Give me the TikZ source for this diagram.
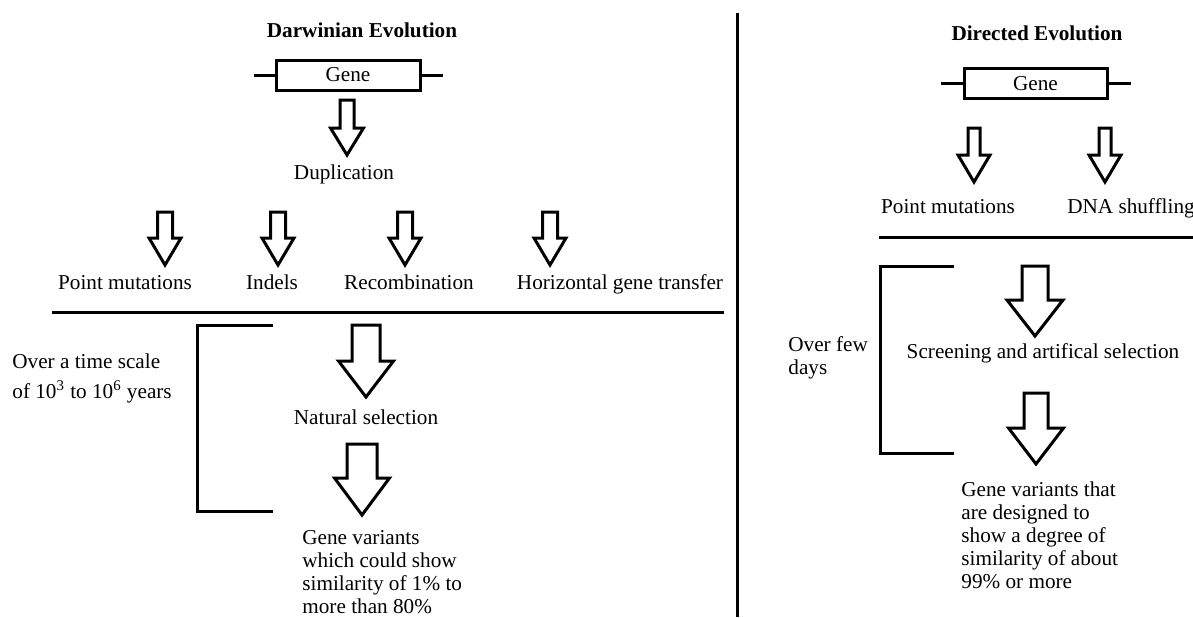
\documentclass[tikz,border=0pt]{standalone}
\usepackage{fontspec}
\setmainfont{Liberation Serif}
\usetikzlibrary{positioning}

\begin{document}
\begin{tikzpicture}[x=0.5pt, y=-0.5pt,
        txt/.style={font=\fontsize{10.6pt}{11.5pt}\selectfont, inner sep=0pt, anchor=base},
        para/.style={txt, align=left, anchor=base west},
        title/.style={txt, font=\fontsize{10.6pt}{11.5pt}\selectfont\bfseries},
        genebox/.style={draw, line width=1.5pt, minimum width=72pt, minimum height=15pt,
            inner sep=0pt, font=\fontsize{10.6pt}{11.5pt}\selectfont},
        rule/.style={line width=1.5pt},
        pics/blockdown/.style args={#1/#2/#3/#4}{code={
            \draw[rule, line join=miter] (-#1,0) -- (-#1,#3) -- (-#2,#3) -- (0,#4)
                -- (#2,#3) -- (#1,#3) -- (#1,0) -- cycle;}}]
        \useasboundingbox (0,0) rectangle (1193,617);

        % Darwinian evolution: title and gene
        \node[title] (dtitle) at (362,37) {Darwinian Evolution};
        \node[genebox] (dgene) at (348,75) {Gene};
        \coordinate (dgenel) at (254,75);
        \coordinate (dgener) at (443,75);
        \draw[rule] (dgenel) -- (dgene.west);
        \draw[rule] (dgene.east) -- (dgener);

        \pic (ddup) at (347,100) {blockdown=7/16.5/28/55};
        \node[txt] (dupl) at (344,179) {Duplication};

        % Draw the four ways of change
        \pic (dpm) at (165,212) {blockdown=7.5/16/26/53};
        \pic (dind) at (278,212) {blockdown=7.5/16/26/53};
        \pic (drec) at (405,212) {blockdown=7.5/16/26/53};
        \pic (dhgt) at (550,212) {blockdown=7.5/16/26/53};

        \node[txt] (dpoint) at (125,289) {Point mutations};
        \node[txt] (indels) at (272,289) {Indels};
        \node[txt] (recomb) at (409,289) {Recombination};
        \node[txt] (hgt) at (620,289) {Horizontal gene transfer};

        \coordinate (dlinel) at (52,312);
        \coordinate (dliner) at (724,312);
        \draw[rule] (dlinel) -- (dliner);

        % Draw the time scale bracket and selection
        \draw[rule] (273,325) -- (197,325) -- (197,511) -- (273,511);
        \node[para] (dtime) at (12,398) {Over a time scale\\[3.5pt]
            of 10\textsuperscript{3} to 10\textsuperscript{6} years};

        \pic (dsel) at (366,325) {blockdown=14/27.5/36/72};
        \node[txt] (natsel) at (366,424) {Natural selection};
        \pic (dres) at (362,444) {blockdown=15/27.5/34/71};
        \node[para] (dvar) at (302,613) {Gene variants\\which could show\\
            similarity of 1\% to\\more than 80\%};

        % Divider between the two halves
        \coordinate (divt) at (737,13);
        \coordinate (divb) at (737,617);
        \draw[rule] (divt) -- (divb);

        % Directed evolution: title and gene
        \node[title] (rtitle) at (1037,40) {Directed Evolution};
        \node[genebox, minimum width=71.5pt] (rgene) at (1035.5,83.5) {Gene};
        \coordinate (rgenel) at (941,83.5);
        \coordinate (rgener) at (1131,83.5);
        \draw[rule] (rgenel) -- (rgene.west);
        \draw[rule] (rgene.east) -- (rgener);

        \pic (rpm) at (974,128) {blockdown=6/16/27/54};
        \pic (rdna) at (1105,128) {blockdown=6/16/27/54};
        \node[txt] (rpoint) at (948,213) {Point mutations};
        \node[txt] (dnash) at (1131,213) {DNA shuffling};

        \coordinate (rlinel) at (879,237);
        \coordinate (rliner) at (1193,237);
        \draw[rule] (rlinel) -- (rliner);

        % Draw the days bracket and screening
        \draw[rule] (954,266) -- (880,266) -- (880,453) -- (954,453);
        \node[para] (rtime) at (788,374) {Over few\\days};

        \pic (rscr) at (1035,266) {blockdown=13/28/34/70};
        \node[txt] (screen) at (1043,358) {Screening and artifical selection};
        \pic (rres) at (1036,393) {blockdown=12/27.5/35/71};
        \node[para] (rvar) at (961,588) {Gene variants that\\are designed to\\
            show a degree of\\similarity of about\\99\% or more};

\end{tikzpicture}
\end{document}
